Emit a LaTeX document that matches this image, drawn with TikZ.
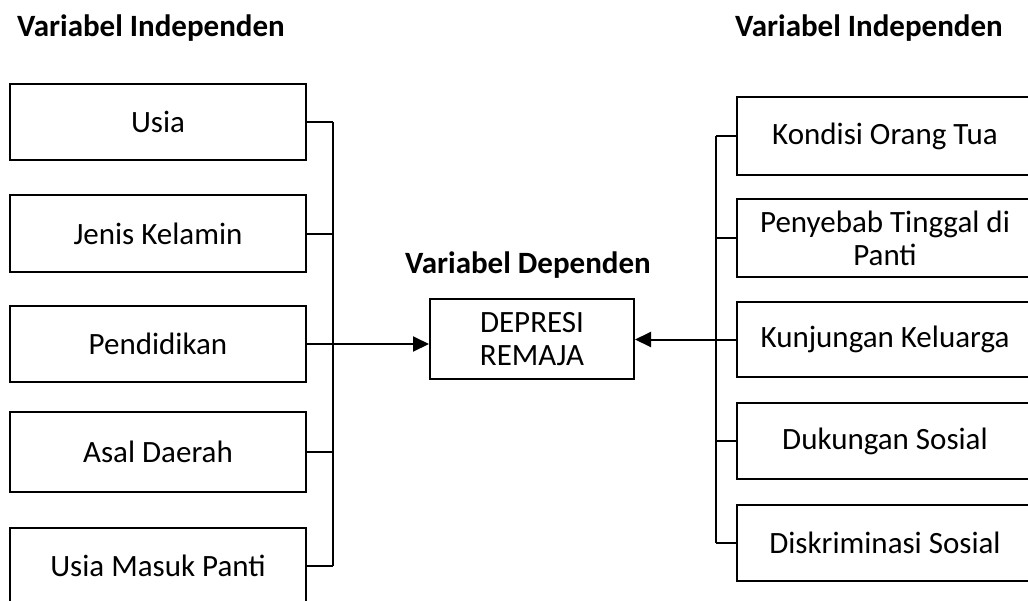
\documentclass[tikz,border=0pt]{standalone}
\usepackage{fontspec}
\setmainfont{Carlito}
\usetikzlibrary{arrows.meta}
\begin{document}
\begin{tikzpicture}[x=1pt,y=-1pt,
  every node/.style={font=\fontsize{31}{33}\selectfont, inner sep=0pt},
  varbox/.style={draw, line width=2pt, minimum width=296pt, align=center},
  head/.style={font=\fontsize{31}{33}\selectfont\bfseries, anchor=base west},
  link/.style={line width=2pt},
  feed/.style={line width=2pt, -{Triangle[length=16pt,width=15pt]}}]
\clip (0,0) rectangle (1028,600);
\fill[white] (0,0) rectangle (1028,600);

% headings
\node[head] (hl) at (17,36) {Variabel Independen};
\node[head] (hr) at (735,36) {Variabel Independen};
\node[head, anchor=base] (hd) at (528,273) {Variabel Dependen};

% left group
\node[varbox, minimum height=76pt] (b1) at (158,122) {Usia};
\node[varbox, minimum height=77pt] (b2) at (158,233.5) {Jenis Kelamin};
\node[varbox, minimum height=76pt] (b3) at (158,344) {Pendidikan};
\node[varbox, minimum height=80pt] (b4) at (158,452) {Asal Daerah};
\node[varbox, minimum height=76pt] (b5) at (158,566) {Usia Masuk Panti};

% dependent variable
\node[draw, line width=2pt, minimum width=204pt, minimum height=80pt, align=center,
      font=\fontsize{31}{33}\selectfont] (dep) at (532,339) {DEPRESI\\REMAJA};

% right group
\node[varbox, minimum height=78pt] (r1) at (885,136) {Kondisi Orang Tua};
\node[varbox, minimum height=78pt] (r2) at (885,238) {Penyebab Tinggal di\\Panti};
\node[varbox, minimum height=75pt] (r3) at (885,339.5) {Kunjungan Keluarga};
\node[varbox, minimum height=76pt] (r4) at (885,441) {Dukungan Sosial};
\node[varbox, minimum height=76pt] (r5) at (885,543) {Diskriminasi Sosial};

% collector lines
\coordinate (lj) at (333,344);
\coordinate (rj) at (716,339);
\foreach \b in {b1,b2,b4,b5}
  \draw[link] (\b.east) -- (\b.east -| lj);
\draw[link] (b1.east -| lj) -- (b5.east -| lj);
\draw[feed] (b3.east) -- (b3.east -| dep.west);

\foreach \r in {r1,r2,r4,r5}
  \draw[link] (\r.west) -- (\r.west -| rj);
\draw[link] (r1.west -| rj) -- (r5.west -| rj);
\draw[feed] (r3.west) -- (r3.west -| dep.east);
\end{tikzpicture}
\end{document}
